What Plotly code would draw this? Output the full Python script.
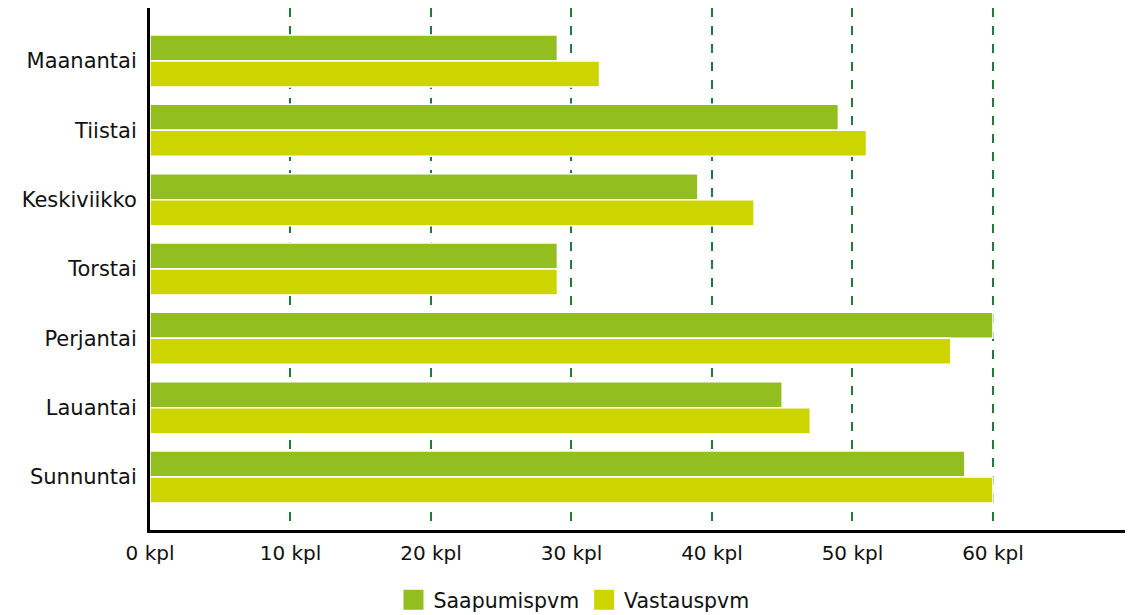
import plotly.graph_objects as go

days = ["Maanantai", "Tiistai", "Keskiviikko", "Torstai", "Perjantai", "Lauantai", "Sunnuntai"]
saapumis = [29, 49, 39, 29, 60, 45, 58]
vastaus = [32, 51, 43, 29, 57, 47, 60]
series_names = ["Saapumispvm", "Vastauspvm"]
colors = ["#92bf1f", "#cdd500"]

fig = go.Figure()
for name, vals, col in zip(series_names, [saapumis, vastaus], colors):
    fig.add_trace(go.Bar(
        y=days, x=vals, name=name, orientation="h", showlegend=False,
        marker=dict(color=col, line=dict(color="white", width=1.5)),
    ))
# legend entries with larger square swatches
for name, col in zip(series_names, colors):
    fig.add_trace(go.Scatter(
        x=[None], y=[None], mode="markers", name=name,
        marker=dict(symbol="square", size=22, color=col, line=dict(color=col, width=4)),
    ))

font = "DejaVu Sans"
fig.update_layout(
    width=1132, height=607,
    paper_bgcolor="white", plot_bgcolor="white",
    barmode="group", bargap=0.25, bargroupgap=0.0,
    margin=dict(l=142, r=15, t=0, b=85),
    font=dict(family=font, size=20, color="#111111"),
    legend=dict(orientation="h", xref="container", x=0.5, xanchor="center",
                yref="container", y=0.025, yanchor="middle",
                font=dict(size=20.5), traceorder="normal", itemwidth=30),
    xaxis=dict(range=[0, 69.4], dtick=10, tick0=0, ticksuffix=" kpl",
               showgrid=True, gridcolor="#1f7a3c", griddash="dash", gridwidth=2,
               showline=True, linecolor="black", linewidth=3, zeroline=False,
               ticks="", ticklabelstandoff=3, automargin=False,
               tickfont=dict(size=20)),
    yaxis=dict(range=[6.765, -0.765], showline=True, linecolor="black", linewidth=3,
               showgrid=False, ticks="", ticklabelstandoff=6, automargin=False,
               tickfont=dict(size=21)),
)

fig.write_html("out.html")
